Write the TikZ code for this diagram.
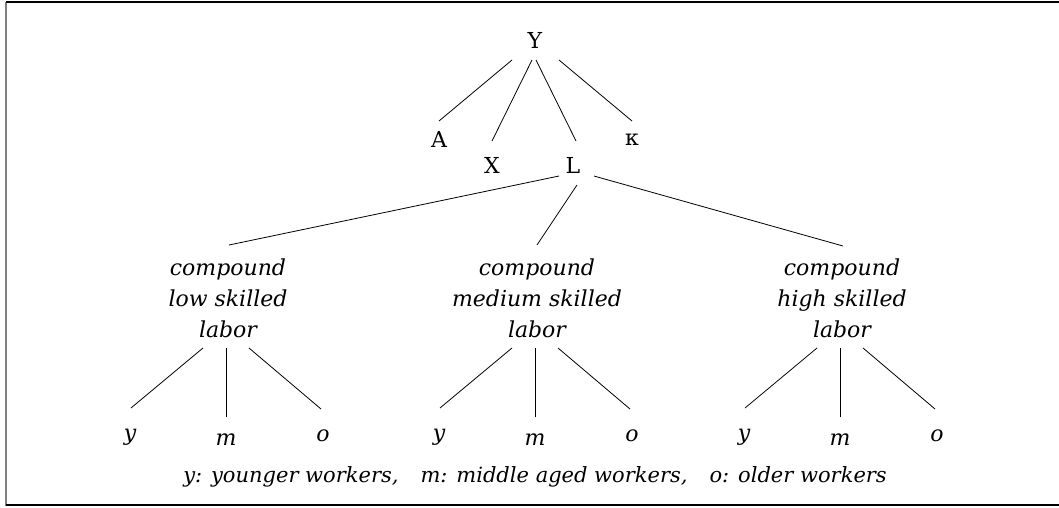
\documentclass[tikz,border=0pt]{standalone}
\usepackage{fontspec}
\setmainfont{DejaVu Serif}
\begin{document}
\begin{tikzpicture}[x=1pt,y=-1pt,
  lbl/.style={inner sep=0pt, anchor=base, font=\fontsize{22}{26}\selectfont},
  leaf/.style={inner sep=0pt, anchor=base, font=\itshape\fontsize{22}{26}\selectfont},
  comp/.style={inner sep=0pt, anchor=north, align=center, font=\itshape\fontsize{22}{31}\selectfont},
  legendstyle/.style={inner sep=0pt, anchor=base, font=\itshape\fontsize{21}{25}\selectfont},
  edge/.style={line width=0.8pt}]
\useasboundingbox (0,0) rectangle (1059,507);
% frame
\draw[gray, line width=1.5pt] (6,1.5) -- (6,505.5);
\draw[line width=1.2pt] (6,2) -- (1059,2);
\draw[line width=1.2pt] (6,505) -- (1059,505);
% top level
\node[lbl] (Y) at (535,48) {Y};
\node[lbl] (A) at (439,147) {A};
\node[lbl] (K) at (632,145) {κ};
\node[lbl] (X) at (492,173) {X};
\node[lbl] (L) at (573,173) {L};
\draw[edge] ([shift={(-23,12)}]Y.base) -- ([shift={(0,-26)}]A.base);
\draw[edge] ([shift={(-3,12)}]Y.base) -- ([shift={(0,-32)}]X.base);
\draw[edge] ([shift={(1,12)}]Y.base) -- ([shift={(3,-32)}]L.base);
\draw[edge] ([shift={(24,12)}]Y.base) -- ([shift={(0,-24)}]K.base);
% compound labor nodes
\node[comp] (low) at (228,259) {compound\\low skilled\\labor};
\node[comp] (med) at (537,259) {compound\\medium skilled\\labor};
\node[comp] (high) at (842,259) {compound\\high skilled\\labor};
\draw[edge] ([shift={(-14,3)}]L.base) -- ([shift={(1,-14)}]low.north);
\draw[edge] ([shift={(4,12)}]L.base) -- ([shift={(0,-14)}]med.north);
\draw[edge] ([shift={(21,3)}]L.base) -- ([shift={(1,-13)}]high.north);
% leaves
\foreach \c/\cx in {low/228,med/537,high/842}{
  \node[leaf] (\c y) at (\cx-98,440) {y};
  \node[leaf] (\c m) at (\cx-2,445) {m};
  \node[leaf] (\c o) at (\cx+95,441) {o};
  \draw[edge] ([shift={(-25,89)}]\c.north) -- ([shift={(1,-32)}]\c y.base);
  \draw[edge] ([shift={(-2,89)}]\c.north) -- ([shift={(0,-28)}]\c m.base);
  \draw[edge] ([shift={(21,89)}]\c.north) -- ([shift={(-2,-32)}]\c o.base);
}
% legend
\node[legendstyle] (legend) at (535,482) {y: younger workers,\hspace{22pt}m: middle aged workers,\hspace{22pt}o: older workers};
\end{tikzpicture}
\end{document}
